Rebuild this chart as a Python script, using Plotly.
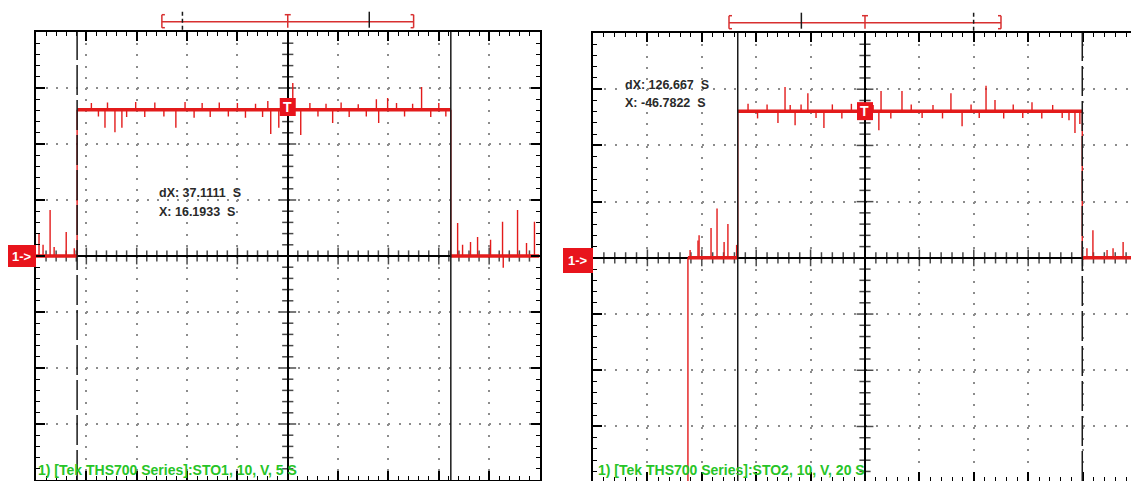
import plotly.graph_objects as go
import numpy as np

W, H = 1131, 481
RED = "#e31b1b"
BOX_RED = "#e8141c"
GREEN = "#27c427"

# ---------------- data: left capture (STO1, 10 V/div, 5 s/div) ----------------
L_TIME_RANGE = [-25, 25]
L_VOLT_RANGE = [-40, 40]
L_CURSORS = [-20.9178, 16.1933]          # dashed, solid
L_LEVEL_HIGH = 26.1
L_LEVEL_LOW = 0.0
L_SPIKE_T = [-24.7, -24.3, -23.6, -23.2, -22.0, -21.2,
             -19.5, -18.8, -18.15, -17.9, -17.16, -16.47, -16.0, -15.1, -14.2, -13.2, -12.3,
             -11.11, -10.2, -9.3, -8.5, -7.7, -6.8, -5.9, -5.0, -4.2, -3.2, -2.5, -1.98,
             -1.69, -0.89, 0.50, 1.29, 2.2, 3.0, 3.8, 4.46, 5.3, 6.1, 7.0, 7.8, 8.8, 9.03,
             9.92, 10.8, 11.6, 12.4, 13.29, 14.2, 15.0, 15.7,
             16.87, 17.36, 18.15, 18.85, 20.14, 21.33, 21.4, 22.82, 23.71, 24.5]
L_SPIKE_V = [4.1, 2.0, 8.2, 1.6, 4.3, 1.4,
             27.3, 24.9, 22.9, 27.4, 22.1, 22.9, 24.8, 27.5, 24.8, 27.4, 24.9,
             22.9, 27.5, 24.7, 27.3, 24.8, 27.4, 24.9, 27.3, 24.7, 27.2, 24.8, 27.7,
             21.8, 22.9, 30.9, 21.6, 27.3, 24.9, 27.2, 23.75, 27.4, 24.8, 27.1, 24.9, 28.0, 23.75,
             28.2, 27.3, 24.9, 27.2, 30.2, 24.8, 27.3, 24.9,
             5.9, 2.0, 2.5, 3.4, 2.9, 6.1, -2.1, 8.2, 2.3, 6.1]
L_LABEL = "1) [Tek THS700 Series]:STO1, 10, V, 5 S"

# ---------------- data: right capture (STO2, 10 V/div, 20 s/div) ----------------
R_TIME_RANGE = [-100, 97.8]
R_VOLT_RANGE = [-39.7, 40]
R_CURSORS = [-46.7822, 79.8848]          # solid, dashed
R_TRACE_START = -65.1
R_LEVEL_HIGH = 26.1
R_LEVEL_LOW = 0.0
R_SPIKE_T = [-64.3, -61.4, -61.0, -56.6, -54.4, -51.8, -50.4, -47.2,
             -43.0, -39.5, -36.0, -32.0, -29.4, -27.5, -25.7, -23.5, -21.0, -18.0, -15.1,
             -12.0, -8.5, -5.0, -2.0, 3.0, 5.1, 5.9, 9.5, 13.6, 17.0, 21.0, 25.0, 28.5, 31.6,
             35.7, 39.0, 42.0, 44.5, 47.8, 51.0, 54.5, 58.0, 61.4, 65.0, 69.0, 72.5, 75.0,
             77.2, 79.0,
             81.6, 83.8, 89.0, 91.2, 94.9]
R_SPIKE_V = [1.4, 3.1, 4.0, 5.3, 8.8, 2.8, 6.0, 2.3,
             27.4, 24.8, 27.3, 24.0, 30.4, 27.2, 23.6, 27.3, 29.3, 24.9, 23.1,
             27.3, 24.8, 27.4, 24.9, 27.2, 22.7, 29.7, 24.8, 29.7, 27.3, 24.9, 27.2, 24.8, 29.3,
             23.4, 27.3, 24.9, 30.6, 28.1, 24.8, 27.3, 24.9, 27.7, 24.8, 27.2, 24.9, 24.5,
             22.2, 23.8,
             1.7, 4.9, 1.4, 1.7, 2.8]
R_LABEL = "1) [Tek THS700 Series]:STO2, 10, V, 20 S"

VOLTS_PER_DIV = 10
L_SEC_PER_DIV = 5
R_SEC_PER_DIV = 20

# ---------------- layout geometry (pixels) ----------------
L_BOX = dict(x0=36, x1=539.5, y0=32, y1=480)
R_BOX = dict(x0=593, x1=1131, y0=33, y1=481)


def px_x(p):
    return p / W


def px_y(p):
    return 1 - p / H


def level_at(t, lo, hi, c0, c1):
    return hi if c0 < t < c1 else lo


def spike_xy(ts, vs, lo, hi, c0, c1):
    xs, ys = [], []
    for t, v in zip(ts, vs):
        b = level_at(t, lo, hi, c0, c1)
        xs += [t, t, None]
        ys += [b, v, None]
    return xs, ys


fig = go.Figure()

# ---------- left panel traces ----------
lc0, lc1 = L_CURSORS
band_x = [L_TIME_RANGE[0], lc0, None, lc0, lc1, None, lc1, L_TIME_RANGE[1]]
band_y = [L_LEVEL_LOW, L_LEVEL_LOW, None, L_LEVEL_HIGH, L_LEVEL_HIGH, None, L_LEVEL_LOW, L_LEVEL_LOW]
edge_x = [lc0, lc0, None, lc1, lc1]
edge_y = [L_LEVEL_LOW, L_LEVEL_HIGH, None, L_LEVEL_HIGH, L_LEVEL_LOW]
sx, sy = spike_xy(L_SPIKE_T, L_SPIKE_V, L_LEVEL_LOW, L_LEVEL_HIGH, lc0, lc1)

# centre crosshair ticks (left)
lt = np.arange(L_TIME_RANGE[0] + 1, L_TIME_RANGE[1], 1)
lv = np.arange(L_VOLT_RANGE[0] + 2, L_VOLT_RANGE[1], 2)
fig.add_trace(go.Scatter(x=lt, y=np.zeros_like(lt), mode="markers", xaxis="x", yaxis="y",
                         marker=dict(symbol="line-ns", size=[12 if abs(v % L_SEC_PER_DIV) < 1e-9 else 8 for v in lt],
                                     line=dict(width=1.5, color="black")), hoverinfo="skip"))
fig.add_trace(go.Scatter(x=np.zeros_like(lv), y=lv, mode="markers", xaxis="x", yaxis="y",
                         marker=dict(symbol="line-ew", size=[12 if abs(v % VOLTS_PER_DIV) < 1e-9 else 8 for v in lv],
                                     line=dict(width=1.5, color="black")), hoverinfo="skip"))

fig.add_trace(go.Scatter(x=band_x, y=band_y, mode="lines", line=dict(color=RED, width=3.5),
                         xaxis="x", yaxis="y", hoverinfo="skip"))
fig.add_trace(go.Scatter(x=edge_x + [None] + sx, y=edge_y + [None] + sy, mode="lines",
                         line=dict(color=RED, width=1.4), xaxis="x", yaxis="y", hoverinfo="skip"))

# ---------- right panel traces ----------
rc0, rc1 = R_CURSORS
rband_x = [R_TRACE_START, rc0, None, rc0, rc1, None, rc1, R_TIME_RANGE[1]]
rband_y = [R_LEVEL_LOW, R_LEVEL_LOW, None, R_LEVEL_HIGH, R_LEVEL_HIGH, None, R_LEVEL_LOW, R_LEVEL_LOW]
redge_x = [R_TRACE_START, R_TRACE_START, None, rc0, rc0, None, rc1, rc1]
redge_y = [R_VOLT_RANGE[0] - 20, R_LEVEL_LOW, None, R_LEVEL_LOW, R_LEVEL_HIGH, None, R_LEVEL_HIGH, R_LEVEL_LOW]
rsx, rsy = spike_xy(R_SPIKE_T, R_SPIKE_V, R_LEVEL_LOW, R_LEVEL_HIGH, rc0, rc1)

rt = np.arange(R_TIME_RANGE[0] + 4, R_TIME_RANGE[1], 4)
rv = np.arange(-38, R_VOLT_RANGE[1], 2)
fig.add_trace(go.Scatter(x=rt, y=np.zeros_like(rt), mode="markers", xaxis="x2", yaxis="y2",
                         marker=dict(symbol="line-ns", size=[12 if abs(v % R_SEC_PER_DIV) < 1e-9 else 8 for v in rt],
                                     line=dict(width=1.5, color="black")), hoverinfo="skip"))
fig.add_trace(go.Scatter(x=np.zeros_like(rv), y=rv, mode="markers", xaxis="x2", yaxis="y2",
                         marker=dict(symbol="line-ew", size=[12 if abs(v % VOLTS_PER_DIV) < 1e-9 else 8 for v in rv],
                                     line=dict(width=1.5, color="black")), hoverinfo="skip"))
fig.add_trace(go.Scatter(x=rband_x, y=rband_y, mode="lines", line=dict(color=RED, width=3.5),
                         xaxis="x2", yaxis="y2", hoverinfo="skip"))
fig.add_trace(go.Scatter(x=redge_x + [None] + rsx, y=redge_y + [None] + rsy, mode="lines",
                         line=dict(color=RED, width=1.4), xaxis="x2", yaxis="y2", hoverinfo="skip"))


def axis_common(dtick, minor_dtick, dash):
    return dict(dtick=dtick, tick0=0, showgrid=True, gridcolor="#8c8c8c", gridwidth=2, griddash=dash,
                zeroline=True, zerolinecolor="black", zerolinewidth=1.5,
                showline=True, linecolor="black", linewidth=1.5,
                ticks="inside", ticklen=9, tickwidth=1.5, tickcolor="black",
                showticklabels=False, fixedrange=True,
                minor=dict(dtick=minor_dtick, tick0=0, ticks="inside", ticklen=4, tickwidth=1.2,
                           tickcolor="black", showgrid=False))


lx = axis_common(L_SEC_PER_DIV, 1, "2px,9.2px")
lx.update(domain=[px_x(L_BOX["x0"]), px_x(L_BOX["x1"])], range=L_TIME_RANGE, anchor="y", mirror="ticks")
ly = axis_common(VOLTS_PER_DIV, 2, "2px,8.07px")
ly.update(domain=[px_y(L_BOX["y1"]), px_y(L_BOX["y0"])], range=L_VOLT_RANGE, anchor="x", mirror="ticks")
rx = axis_common(R_SEC_PER_DIV, 4, "2px,9.25px")
rx.update(domain=[px_x(R_BOX["x0"]), 1], range=R_TIME_RANGE, anchor="y2", mirror="ticks")
ry = axis_common(VOLTS_PER_DIV, 2, "2px,8.88px")
ry.update(domain=[0, px_y(R_BOX["y0"])], range=R_VOLT_RANGE, anchor="x2", mirror=False)

shapes = []
annotations = []

# cursor lines
for xref, (c_dash, c_solid) in [("x", (lc0, lc1)), ("x2", (rc1, rc0))]:
    yd = "y domain" if xref == "x" else "y2 domain"
    shapes.append(dict(type="line", xref=xref, yref=yd, x0=c_dash, x1=c_dash, y0=0, y1=1,
                       line=dict(color="#1a1a1a", width=1.5, dash="30px,5px")))
    shapes.append(dict(type="line", xref=xref, yref=yd, x0=c_solid, x1=c_solid, y0=0, y1=1,
                       line=dict(color="#1a1a1a", width=1.5)))

# top record bars
for xref, half, dcur, scur, ybar, ppu in [
        ("x", (L_TIME_RANGE[1] - L_TIME_RANGE[0]) / 4, lc0, lc1, 21.7, (L_BOX["x1"] - L_BOX["x0"]) / 50),
        ("x2", 50, rc1, rc0, 22.7, 2.72)]:
    yb = px_y(ybar)
    yt = px_y(ybar - 7)
    ybo = px_y(ybar + 6)
    nub = 3 / ppu
    ln = dict(color="#d83030", width=1.5)
    shapes += [
        dict(type="line", xref=xref, yref="paper", x0=-half, x1=half, y0=yb, y1=yb, line=ln),
        dict(type="line", xref=xref, yref="paper", x0=-half, x1=-half, y0=yt, y1=ybo, line=ln),
        dict(type="line", xref=xref, yref="paper", x0=-half, x1=-half + nub, y0=yt, y1=yt, line=ln),
        dict(type="line", xref=xref, yref="paper", x0=-half, x1=-half + nub, y0=ybo, y1=ybo, line=ln),
        dict(type="line", xref=xref, yref="paper", x0=half, x1=half, y0=yt, y1=ybo, line=ln),
        dict(type="line", xref=xref, yref="paper", x0=half, x1=half - nub, y0=yt, y1=yt, line=ln),
        dict(type="line", xref=xref, yref="paper", x0=half, x1=half - nub, y0=ybo, y1=ybo, line=ln),
        dict(type="line", xref=xref, yref="paper", x0=-nub, x1=nub, y0=yt, y1=yt, line=ln),
        dict(type="line", xref=xref, yref="paper", x0=0, x1=0, y0=yt, y1=ybo, line=ln),
        dict(type="line", xref=xref, yref="paper", x0=dcur / 2, x1=dcur / 2, y0=px_y(ybar - 10), y1=px_y(ybar + 8),
             line=dict(color="#1a1a1a", width=1.5, dash="4px,3px")),
        dict(type="line", xref=xref, yref="paper", x0=scur / 2, x1=scur / 2, y0=px_y(ybar - 10), y1=px_y(ybar + 6),
             line=dict(color="#1a1a1a", width=1.5)),
    ]

# trigger markers "T"
for xref, yref, lvl in [("x", "y", L_LEVEL_HIGH + 0.5), ("x2", "y2", R_LEVEL_HIGH)]:
    shapes.append(dict(type="rect", xref=xref, yref=yref, xsizemode="pixel", ysizemode="pixel",
                       xanchor=0, yanchor=lvl, x0=-8, x1=8, y0=-9, y1=9,
                       fillcolor=BOX_RED, line=dict(width=0)))
    annotations.append(dict(x=0, y=lvl, xref=xref, yref=yref, text="<b>T</b>", showarrow=False,
                            xanchor="center", yanchor="middle",
                            font=dict(color="white", size=14, family="Liberation Sans, Arial")))

# channel markers "1->"
for x0, x1, y0, y1 in [(8, 36, 245, 267), (563, 593, 248, 273)]:
    shapes.append(dict(type="rect", xref="paper", yref="paper", x0=px_x(x0), x1=px_x(x1),
                       y0=px_y(y1), y1=px_y(y0), fillcolor=BOX_RED, line=dict(width=0)))
    annotations.append(dict(x=px_x((x0 + x1) / 2), y=px_y((y0 + y1) / 2), xref="paper", yref="paper",
                            text="<b>1-></b>", showarrow=False, xanchor="center", yanchor="middle",
                            font=dict(color="white", size=13, family="Liberation Sans, Arial")))

# cursor readouts
TXT_FONT = dict(color="#2a2a2a", size=12.5, family="Liberation Sans Narrow, Liberation Sans, Arial")
for x, y, txt in [(157, 193, f"<b>dX: {lc1 - lc0:.4f}  S</b>"),
                  (157, 212, f"<b>X: {lc1:.4f}  S</b>"),
                  (623, 85, f"<b>dX: {rc1 - rc0:.3f}  S</b>"),
                  (623, 103, f"<b>X: {rc0:.4f}  S</b>")]:
    annotations.append(dict(x=px_x(x), y=px_y(y), xref="paper", yref="paper", text=txt, showarrow=False,
                            xanchor="left", yanchor="middle", font=TXT_FONT))

# bottom green labels
for x, txt in [(36, L_LABEL), (596, R_LABEL)]:
    annotations.append(dict(x=px_x(x), y=px_y(470), xref="paper", yref="paper", text=f"<b>{txt}</b>",
                            showarrow=False, xanchor="left", yanchor="middle",
                            font=dict(color=GREEN, size=14, family="Liberation Sans Narrow, Liberation Sans, Arial")))

fig.update_layout(
    width=W, height=H, margin=dict(l=0, r=0, t=0, b=0),
    paper_bgcolor="white", plot_bgcolor="white", showlegend=False,
    xaxis=lx, yaxis=ly, xaxis2=rx, yaxis2=ry,
    shapes=shapes, annotations=annotations,
)

fig.write_html("out.html")
